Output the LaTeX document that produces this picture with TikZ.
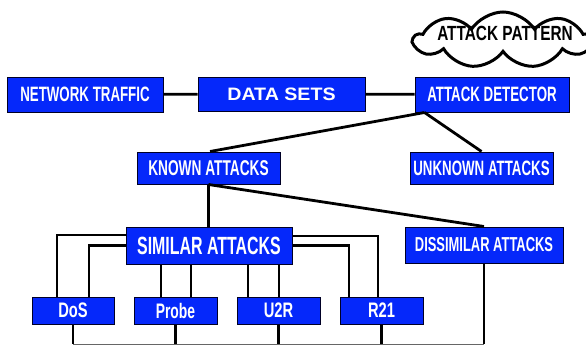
\documentclass[tikz,border=0pt]{standalone}
\usepackage{fontspec}
\usepackage{graphicx}
\setmainfont{Liberation Sans}
\usetikzlibrary{shapes.symbols}
\newcommand\sqz[2]{\scalebox{#1}[1]{#2}}
\definecolor{boxblue}{RGB}{5,40,250}
\begin{document}
\begin{tikzpicture}[x=1pt,y=-1pt,
  blk/.style={draw=black!85!blue, line width=1pt, fill=boxblue, text=white, inner sep=0pt, anchor=center},
  smallbox/.style={blk, minimum width=83pt, minimum height=27pt, font=\bfseries\fontsize{21}{23}\selectfont},
  conn/.style={line width=2.8pt, black},
]
\useasboundingbox (0,0) rectangle (586,345);
\clip (0,0) rectangle (586,345);
\fill[white] (0,0) rectangle (586,345);

% cloud
\node[cloud, draw, line width=3pt, cloud puffs=9, cloud puff arc=115, minimum width=178pt, minimum height=56pt, inner sep=0pt] (cl) at (503,40) {};
\node[font=\bfseries\fontsize{20.5}{22}\selectfont, inner sep=0pt] (clt) at (505,33) {\sqz{0.75}{ATTACK PATTERN}};

% boxes
\node[blk, minimum width=156pt, minimum height=35pt, font=\bfseries\fontsize{20.8}{23}\selectfont] (nt) at (85,94.5) {\sqz{0.64}{NETWORK TRAFFIC}};
\node[blk, minimum width=167pt, minimum height=34pt, font=\bfseries\fontsize{18}{20}\selectfont] (ds) at (281.5,94) {\sqz{1.09}{DATA SETS}};
\node[blk, minimum width=154pt, minimum height=35pt, font=\bfseries\fontsize{20.8}{23}\selectfont] (ad) at (492,94.5) {\sqz{0.64}{ATTACK DETECTOR}};
\node[blk, minimum width=143pt, minimum height=32pt, font=\bfseries\fontsize{21.4}{23}\selectfont] (ka) at (208.5,168) {\sqz{0.64}{KNOWN ATTACKS}};
\node[blk, minimum width=143pt, minimum height=32pt, font=\bfseries\fontsize{20.8}{23}\selectfont] (ua) at (481.5,168) {\sqz{0.64}{UNKNOWN ATTACKS}};
\node[blk, minimum width=166pt, minimum height=37pt, font=\bfseries\fontsize{24.9}{27}\selectfont] (sa) at (209,245.5) {\sqz{0.64}{SIMILAR ATTACKS}};
\node[blk, minimum width=158pt, minimum height=36pt, font=\bfseries\fontsize{20.2}{22}\selectfont] (da) at (484,245) {\sqz{0.64}{DISSIMILAR ATTACKS}};
\node[smallbox, minimum width=82pt] (dos) at (73,310.5) {\sqz{0.7}{DoS}};
\node[smallbox] (probe) at (175.5,310.5) {\sqz{0.66}{Probe}};
\node[smallbox] (u2r) at (278.5,310.5) {\sqz{0.7}{U2R}};
\node[smallbox] (r21) at (381.5,310.5) {\sqz{0.7}{R21}};

% connectors
\coordinate (adb) at ([xshift=10pt]ad.south west);
\coordinate (base) at (0,344);
\draw[conn] (nt) -- (ds);
\draw[conn] (ds) -- (ad);
\draw[conn] (adb) -- ([xshift=1.5pt]ka.north);
\draw[conn] (adb) -- (ua.north);
\draw[conn] (ka.south) -- (ka.south |- sa.north);
\draw[conn] (ka.south) -- (da.north);
\draw[conn] ([yshift=10.5pt]sa.west) -| ([xshift=-16pt]dos.north);
\draw[conn] (sa.west) -| ([xshift=16pt]dos.north);
\draw[conn] ([xshift=-48pt]sa.south) -- ([xshift=-48pt]sa.south |- probe.north);
\draw[conn] ([xshift=-18pt]sa.south) -- ([xshift=-18pt]sa.south |- probe.north);
\draw[conn] ([xshift=39pt]sa.south) -- ([xshift=39pt]sa.south |- u2r.north);
\draw[conn] ([xshift=70pt]sa.south) -- ([xshift=70pt]sa.south |- u2r.north);
\draw[conn] (sa.east) -| ([xshift=-32.5pt]r21.north);
\draw[conn] ([yshift=9.5pt]sa.east) -| ([xshift=-3.5pt]r21.north);
\foreach \n in {dos,probe,u2r,r21,da} \draw[conn] (\n.south) -- (\n.south |- base);
\draw[line width=1pt, black!60] (dos.south |- base) -- (da.south |- base);
\end{tikzpicture}
\end{document}
